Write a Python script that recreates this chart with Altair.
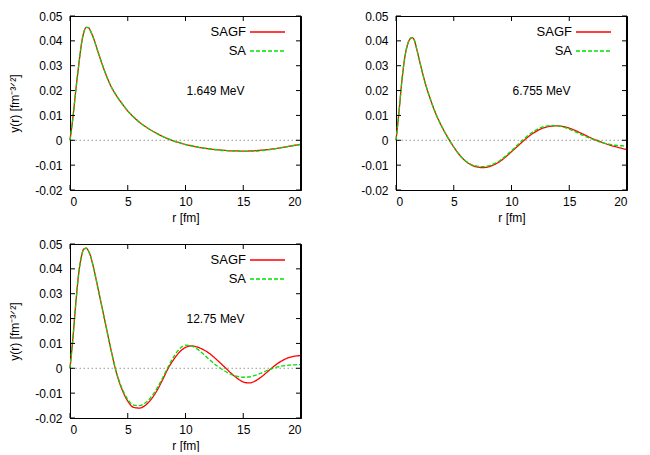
import altair as alt
import pandas as pd

# radial grid (fm)
r_grid = [0, 0.25, 0.5, 0.75, 1.0, 1.2, 1.4, 1.6, 1.8, 2.0, 2.5, 3.0, 3.5, 4.0, 4.5,
          5.0, 5.5, 6.0, 6.5, 7.0, 7.5, 8.0, 8.5, 9.0, 9.5, 10.0, 10.5, 11.0, 11.5,
          12.0, 12.5, 13.0, 13.5, 14.0, 14.5, 15.0, 15.5, 16.0, 16.5, 17.0, 17.5,
          18.0, 18.5, 19.0, 19.5, 20.0]

# 1.649 MeV
sagf_1 = [0, 0.009, 0.020, 0.030, 0.039, 0.0435, 0.0454, 0.0453, 0.0437, 0.0415, 0.0345,
          0.0278, 0.0222, 0.0181, 0.0148, 0.0118, 0.0094, 0.0073, 0.0056, 0.0041, 0.0028,
          0.0016, 0.0006, -0.0003, -0.0010, -0.0017, -0.0022, -0.0027, -0.0031, -0.0034,
          -0.0037, -0.0039, -0.0041, -0.0043, -0.0043, -0.0044, -0.0043, -0.0042, -0.0040,
          -0.0038, -0.0035, -0.0032, -0.0028, -0.0024, -0.0020, -0.0016]
sa_1 = [0, 0.009, 0.020, 0.030, 0.039, 0.0435, 0.0454, 0.0453, 0.0437, 0.0415, 0.0345,
        0.0278, 0.0222, 0.0181, 0.0148, 0.0118, 0.0094, 0.0073, 0.0056, 0.0041, 0.0028,
        0.0016, 0.0006, -0.0003, -0.0010, -0.0017, -0.0022, -0.0027, -0.0031, -0.0034,
        -0.0037, -0.0040, -0.0042, -0.0043, -0.0044, -0.0045, -0.0045, -0.0044, -0.0042,
        -0.0039, -0.0036, -0.0032, -0.0028, -0.0024, -0.0020, -0.0017]

# 6.755 MeV
sagf_2 = [0, 0.011, 0.0235, 0.033, 0.0385, 0.0407, 0.0413, 0.0401, 0.0366, 0.0327, 0.0235,
          0.0162, 0.0101, 0.0052, 0.0010, -0.0027, -0.0059, -0.0083, -0.0099, -0.0107,
          -0.0110, -0.0107, -0.0098, -0.0085, -0.0067, -0.0046, -0.0025, -0.0004, 0.0016,
          0.0032, 0.0045, 0.0053, 0.0057, 0.0058, 0.0055, 0.0049, 0.0040, 0.0029, 0.0018,
          0.0007, -0.0002, -0.0011, -0.0019, -0.0026, -0.0032, -0.0037]
sa_2 = [0, 0.011, 0.0235, 0.033, 0.0385, 0.0407, 0.0413, 0.0401, 0.0366, 0.0327, 0.0235,
        0.0162, 0.0101, 0.0052, 0.0010, -0.0027, -0.0059, -0.0082, -0.0097, -0.0104,
        -0.0106, -0.0103, -0.0094, -0.0081, -0.0063, -0.0042, -0.0020, 0.0002, 0.0022,
        0.0038, 0.0050, 0.0057, 0.0060, 0.0058, 0.0053, 0.0045, 0.0035, 0.0024, 0.0014,
        0.0005, -0.0004, -0.0011, -0.0016, -0.0020, -0.0022, -0.0023]

# 12.75 MeV
sagf_3 = [0, 0.012, 0.026, 0.038, 0.0452, 0.0480, 0.0483, 0.0472, 0.0448, 0.0412, 0.0305,
          0.0195, 0.0085, -0.0015, -0.0085, -0.0132, -0.0157, -0.0160, -0.0150, -0.0126,
          -0.0092, -0.0048, 0.0000, 0.0037, 0.0066, 0.0084, 0.0090, 0.0086, 0.0076, 0.0062,
          0.0043, 0.0022, 0.0000, -0.0022, -0.0041, -0.0055, -0.0059, -0.0052, -0.0037,
          -0.0018, 0.0002, 0.0020, 0.0034, 0.0044, 0.0049, 0.0051]
sa_3 = [0, 0.012, 0.026, 0.038, 0.0452, 0.0480, 0.0483, 0.0472, 0.0448, 0.0412, 0.0305,
        0.0195, 0.0085, -0.0013, -0.0080, -0.0125, -0.0148, -0.0150, -0.0140, -0.0117,
        -0.0083, -0.0040, 0.0006, 0.0048, 0.0079, 0.0093, 0.0090, 0.0078, 0.0059, 0.0038,
        0.0018, 0.0001, -0.0014, -0.0026, -0.0033, -0.0036, -0.0035, -0.0029, -0.0020,
        -0.0010, -0.0001, 0.0006, 0.0010, 0.0013, 0.0014, 0.0015]

energies = ["1.649 MeV", "6.755 MeV", "12.75 MeV"]
series_names = ["SAGF", "SA"]
series_colors = ["#ff0000", "#00e000"]
x_ticks = [0, 5, 10, 15, 20]
y_ticks = [-0.02, -0.01, 0, 0.01, 0.02, 0.03, 0.04, 0.05]
x_range = [0, 20]
y_range = [-0.02, 0.05]

H = 174
FONT = "Liberation Sans"
YTITLE = "y(r) [fm\u207b\u00b3\u141f\u00b2]"

label_expr = ("datum.value == 0 ? '0' : (datum.value < 0 ? '-' : '') + "
              "format(abs(datum.value), '.2f')")


def panel(sagf, sa, energy, ytitle, w):
    df = pd.DataFrame({
        "r": r_grid + r_grid,
        "y": sagf + sa,
        "s": ["SAGF"] * len(r_grid) + ["SA"] * len(r_grid),
    })
    xs = alt.Scale(domain=x_range, nice=False, zero=False)
    ys = alt.Scale(domain=y_range, nice=False, zero=False)
    xax = alt.Axis(values=x_ticks, ticks=False, domain=True, domainColor="black",
                   domainWidth=1, grid=False, labelPadding=6, titlePadding=5, format="d")
    yax = alt.Axis(values=y_ticks, ticks=False, domain=True, domainColor="black",
                   domainWidth=1, grid=False, labelPadding=8, titlePadding=13,
                   labelExpr=label_expr)

    def X(f):
        return alt.X(f, scale=xs, title="r [fm]", axis=xax)

    def Y(f):
        return alt.Y(f, scale=ys, title=ytitle, axis=yax)

    zero = alt.Chart(pd.DataFrame({"y": [0]})).mark_rule(
        color="#9a9a9a", strokeDash=[1.5, 2.5], strokeWidth=1
    ).encode(y=Y("y:Q"))

    lines = alt.Chart(df).mark_line(interpolate="monotone", strokeWidth=1.3).encode(
        x=X("r:Q"),
        y=Y("y:Q"),
        color=alt.Color("s:N", scale=alt.Scale(domain=series_names, range=series_colors),
                        legend=None),
        strokeDash=alt.StrokeDash("s:N", scale=alt.Scale(domain=series_names,
                                                         range=[[1, 0], [4, 2]]),
                                  legend=None),
        detail="s:N",
    )

    xt = pd.DataFrame({"r": x_ticks})
    yt = pd.DataFrame({"y": y_ticks})
    xb = alt.Chart(xt).mark_rule(color="black", strokeWidth=1).encode(
        x=X("r:Q"), y=alt.value(H), y2=alt.value(H - 5))
    xtop = alt.Chart(xt).mark_rule(color="black", strokeWidth=1).encode(
        x=X("r:Q"), y=alt.value(0), y2=alt.value(5))
    yl = alt.Chart(yt).mark_rule(color="black", strokeWidth=1).encode(
        y=Y("y:Q"), x=alt.value(0), x2=alt.value(5))
    yr = alt.Chart(yt).mark_rule(color="black", strokeWidth=1).encode(
        y=Y("y:Q"), x=alt.value(w), x2=alt.value(w - 5))

    # plot frame: top and right edges (bottom/left come from the axis domains)
    frame_top = alt.Chart(pd.DataFrame({"k": [0]})).mark_rule(
        color="black", strokeWidth=1).encode(x=alt.value(0), x2=alt.value(w), y=alt.value(0.5))
    frame_right = alt.Chart(pd.DataFrame({"k": [1]})).mark_rule(
        color="black", strokeWidth=1).encode(y=alt.value(0), y2=alt.value(H),
                                             x=alt.value(w - 0.5))

    lab = alt.Chart(pd.DataFrame({"r": [12.6], "y": [0.02], "t": [energy]})).mark_text(
        font=FONT, fontSize=12, align="center", baseline="middle", color="black"
    ).encode(x=X("r:Q"), y=Y("y:Q"), text="t:N")

    leg = []
    for i, (name, col) in enumerate(zip(series_names, series_colors)):
        yy = 16 + 19 * i
        leg.append(alt.Chart(pd.DataFrame({"t": [name]})).mark_text(
            font=FONT, fontSize=13, align="right", baseline="middle", color="black"
        ).encode(x=alt.value(176), y=alt.value(yy), text="t:N"))
        leg.append(alt.Chart(pd.DataFrame({"t": [name]})).mark_rule(
            color=col, strokeWidth=1.3, strokeDash=[1, 0] if i == 0 else [4, 2]
        ).encode(x=alt.value(180), x2=alt.value(215), y=alt.value(yy)))

    return alt.layer(zero, lines, xb, xtop, yl, yr, frame_top, frame_right, lab,
                     *leg).properties(width=w, height=H)


p1 = panel(sagf_1, sa_1, energies[0], YTITLE, 231)
p2 = panel(sagf_2, sa_2, energies[1], " ", 231)
p3 = panel(sagf_3, sa_3, energies[2], YTITLE, 231)

chart = alt.concat(p1, p2, p3, columns=2, spacing={"row": 54, "column": 95},
                   bounds="flush").properties(
    padding={"left": 0, "top": 1, "right": 5, "bottom": 0},
    background="white",
).configure_view(stroke="black", strokeWidth=1).configure_axis(
    labelFont=FONT, titleFont=FONT, labelFontSize=12, titleFontSize=12,
    titleFontWeight="normal", labelColor="black", titleColor="black"
)

chart.save("out.html", embed_options={"renderer": "svg", "actions": False})
